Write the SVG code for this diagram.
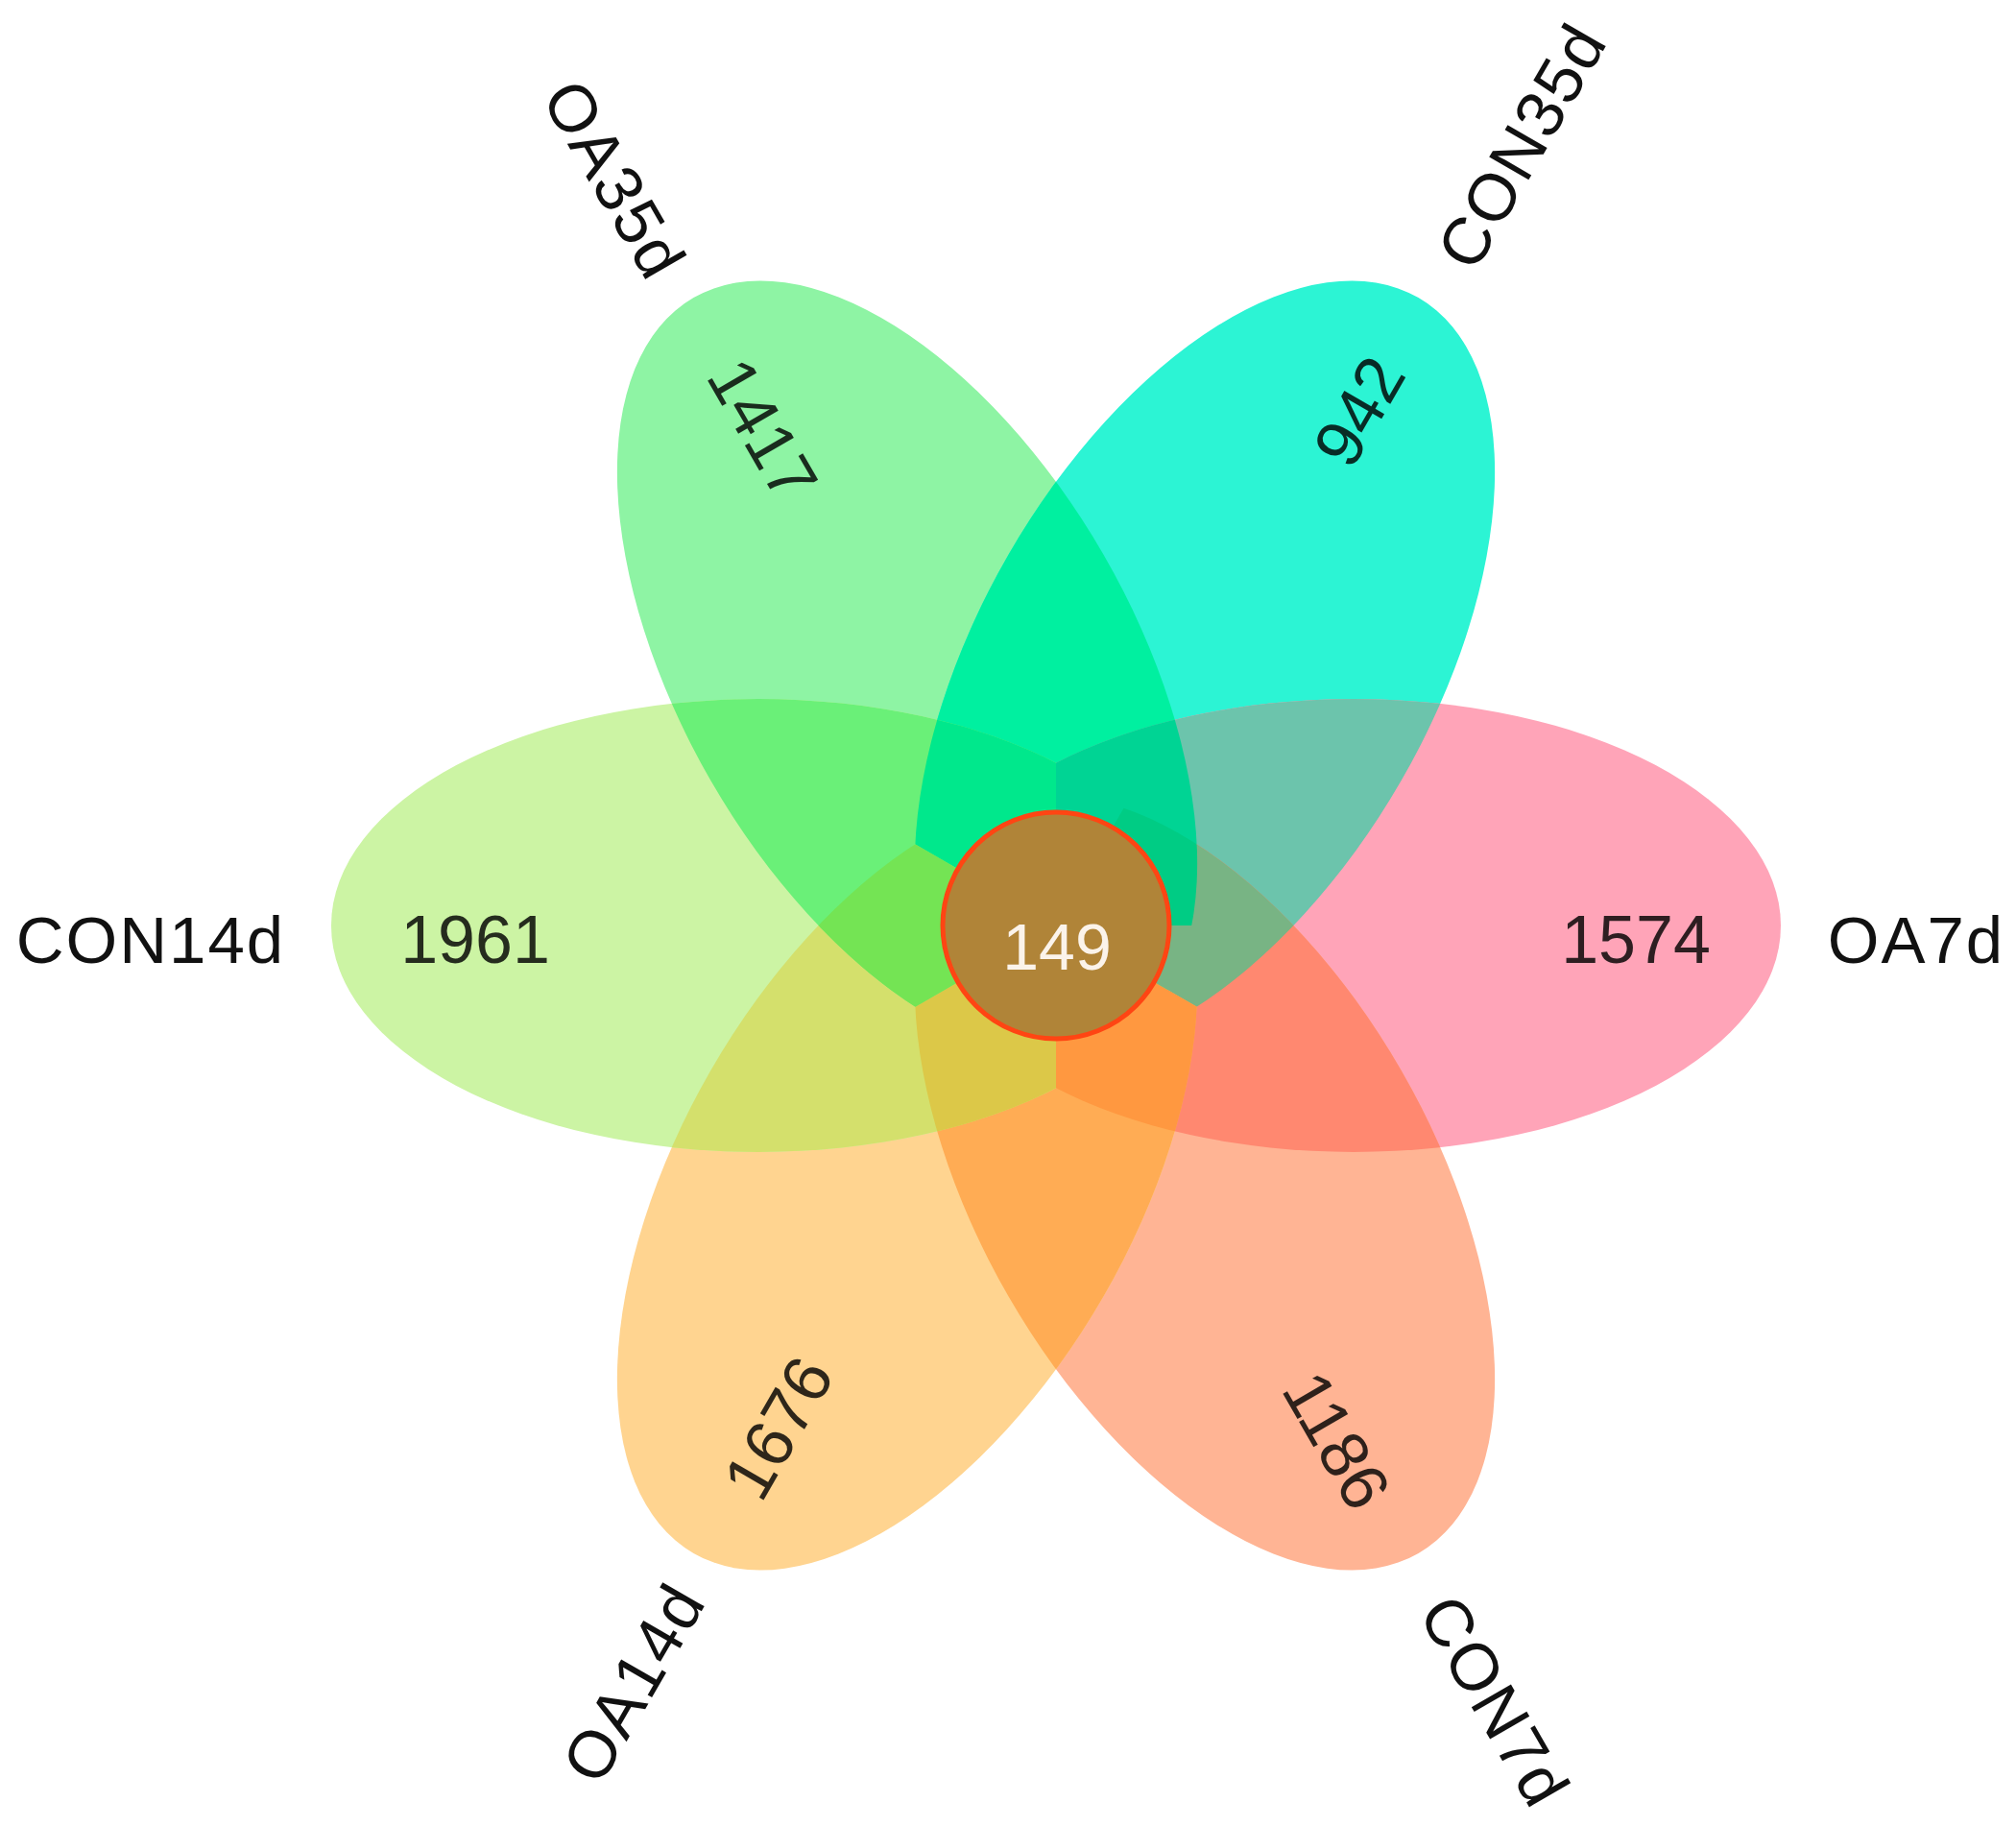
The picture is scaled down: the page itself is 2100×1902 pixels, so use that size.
<svg xmlns="http://www.w3.org/2000/svg" xmlns:xlink="http://www.w3.org/1999/xlink" width="2100" height="1902" viewBox="0 0 2100 1902">
<style>
.lbl{font-family:"Liberation Sans",Arial,sans-serif;font-size:69px;fill:#111;text-anchor:middle;letter-spacing:2px}
.num{font-family:"Liberation Sans",Arial,sans-serif;font-size:70px;fill:#000;fill-opacity:0.82;text-anchor:middle}
.ctr{font-family:"Liberation Sans",Arial,sans-serif;font-size:68px;fill:#FBF3EA;text-anchor:middle}
</style>
<defs>
<ellipse id="eA" cx="945" cy="695.5" rx="445" ry="236" transform="rotate(60 945 695.5)"/>
<ellipse id="eB" cx="1255" cy="695.5" rx="445" ry="236" transform="rotate(-60 1255 695.5)"/>
<ellipse id="eC" cx="1410" cy="964" rx="445" ry="236"/>
<ellipse id="eD" cx="1255" cy="1232.5" rx="445" ry="236" transform="rotate(60 1255 1232.5)"/>
<ellipse id="eE" cx="945" cy="1232.5" rx="445" ry="236" transform="rotate(-60 945 1232.5)"/>
<ellipse id="eF" cx="790" cy="964" rx="445" ry="236"/>
<clipPath id="cA"><use xlink:href="#eA" href="#eA"/></clipPath>
<clipPath id="cB"><use xlink:href="#eB" href="#eB"/></clipPath>
<clipPath id="cC"><use xlink:href="#eC" href="#eC"/></clipPath>
<clipPath id="cD"><use xlink:href="#eD" href="#eD"/></clipPath>
<clipPath id="cE"><use xlink:href="#eE" href="#eE"/></clipPath>
<clipPath id="cF"><use xlink:href="#eF" href="#eF"/></clipPath>
<clipPath id="w0"><path d="M1100 964 L1533 714 L1600 964 L1533 1214 Z"/></clipPath>
<clipPath id="w60"><path d="M1100 964 L1533 1214 L1350 1397 L1100 1464 Z"/></clipPath>
<clipPath id="w120"><path d="M1100 964 L1100 1464 L850 1397 L667 1214 Z"/></clipPath>
<clipPath id="w180"><path d="M1100 964 L667 1214 L600 964 L667 714 Z"/></clipPath>
<clipPath id="w240"><path d="M1100 964 L667 714 L850 531 L1100 464 Z"/></clipPath>
<clipPath id="w300"><path d="M1100 964 L1100 464 L1350 531 L1533 714 Z"/></clipPath>
<clipPath id="wUR"><path d="M1100 964 L1350 531 L1533 714 L1600 964 Z"/></clipPath>
</defs>
<rect width="2100" height="1902" fill="#FFFFFF"/>

<g id="set-OA35d">
<use href="#eA" fill="#8EF4A4"/>
<text class="lbl" transform="translate(640 187) rotate(60)" y="24">OA35d</text>
<text class="num" transform="translate(795 447) rotate(60)" y="25">1417</text>
</g>
<g id="set-CON35d">
<use href="#eB" fill="#2CF4D4"/>
<text class="lbl" transform="translate(1585 152) rotate(-60)" y="24">CON35d</text>
<text class="num" transform="translate(1415 428) rotate(-60)" y="25">942</text>
</g>
<g id="set-OA7d">
<use href="#eC" fill="#FFA4B8"/>
<text class="lbl" x="1996" y="1003">OA7d</text>
<text class="num" x="1704" y="1003">1574</text>
</g>
<g id="set-CON7d">
<use href="#eD" fill="#FFB494"/>
<text class="lbl" transform="translate(1557 1772) rotate(60)" y="24">CON7d</text>
<text class="num" transform="translate(1393 1500) rotate(60)" y="25">1186</text>
</g>
<g id="set-OA14d">
<use href="#eE" fill="#FFD490"/>
<text class="lbl" transform="translate(660 1753) rotate(-60)" y="24">OA14d</text>
<text class="num" transform="translate(810 1487) rotate(-60)" y="25">1676</text>
</g>
<g id="set-CON14d">
<use href="#eF" fill="#CCF4A4"/>
<text class="lbl" x="157" y="1003">CON14d</text>
<text class="num" x="495" y="1003">1961</text>
</g>

<g id="overlaps">
<!-- pairs of neighbouring petals -->
<use href="#eA" clip-path="url(#cB)" fill="#00F0A0"/>
<use href="#eB" clip-path="url(#cC)" fill="#6CC4AC"/>
<use href="#eC" clip-path="url(#cD)" fill="#FF8870"/>
<use href="#eD" clip-path="url(#cE)" fill="#FFAC54"/>
<use href="#eE" clip-path="url(#cF)" fill="#D4E06C"/>
<use href="#eF" clip-path="url(#cA)" fill="#6AF078"/>
<!-- triples, each kept to its own sector -->
<g clip-path="url(#w240)"><g clip-path="url(#cB)"><use href="#eF" clip-path="url(#cA)" fill="#00E88C"/></g></g>
<g clip-path="url(#w300)"><g clip-path="url(#cC)"><use href="#eA" clip-path="url(#cB)" fill="#00D494"/></g></g>
<g clip-path="url(#w0)"><g clip-path="url(#cD)"><use href="#eB" clip-path="url(#cC)" fill="#78B484"/></g></g>
<g clip-path="url(#w60)"><g clip-path="url(#cE)"><use href="#eC" clip-path="url(#cD)" fill="#FF9840"/></g></g>
<g clip-path="url(#w120)"><g clip-path="url(#cF)"><use href="#eD" clip-path="url(#cE)" fill="#DCC848"/></g></g>
<g clip-path="url(#w180)"><g clip-path="url(#cA)"><use href="#eE" clip-path="url(#cF)" fill="#74E454"/></g></g>
<!-- four-way overlap on the upper right -->
<g clip-path="url(#wUR)"><g clip-path="url(#cD)"><g clip-path="url(#cC)"><use href="#eA" clip-path="url(#cB)" fill="#00CC84"/></g></g></g>
</g>

<g id="center">
<circle cx="1100" cy="964" r="118" fill="#B08438" stroke="#FF4513" stroke-width="5"/>
<text class="ctr" x="1101" y="1010">149</text>
</g>
</svg>
